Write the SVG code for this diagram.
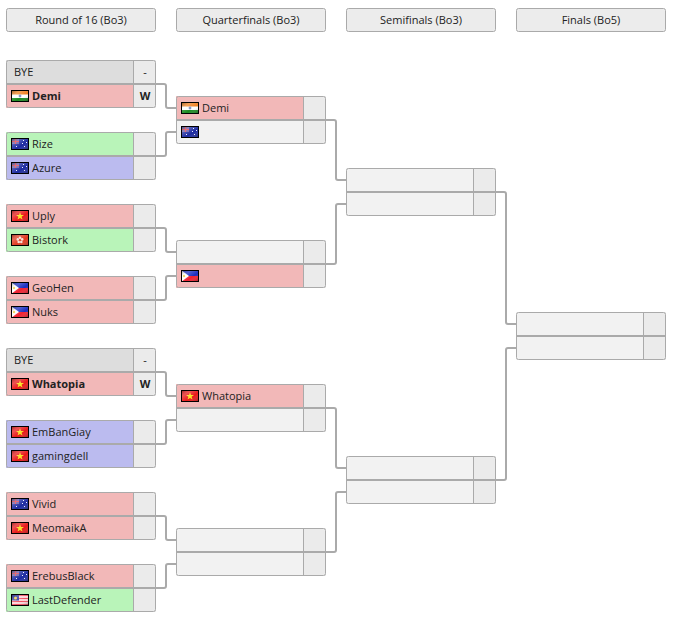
<svg xmlns="http://www.w3.org/2000/svg" xmlns:xlink="http://www.w3.org/1999/xlink" width="686" height="623" viewBox="0 0 686 623">
<style>
text{font-family:"Open Sans","Noto Sans","Liberation Sans",sans-serif;font-size:11px;fill:#222}
.h{text-anchor:middle}
.b{font-weight:700}
.s{text-anchor:middle}
.hd{fill:#ececec;stroke:#aaa;stroke-width:1}
.box{fill:none;stroke:#aaa;stroke-width:1}
.mid{stroke:#aaa;stroke-width:2;fill:none}
.div{stroke:#aaa;stroke-width:1;fill:none}
.c{fill:none;stroke:#aaa;stroke-width:2}
.p{fill:#f2b8b8}.g{fill:#b9f4b9}.u{fill:#bbbbef}.y{fill:#ddd}.e{fill:#f2f2f2}.k{fill:#ebebeb}
</style>
<defs>
<linearGradient id="gl" x1="0" y1="0" x2="1" y2="1">
<stop offset="0" stop-color="#000" stop-opacity=".45"/>
<stop offset=".3" stop-color="#fff" stop-opacity=".25"/>
<stop offset=".6" stop-color="#fff" stop-opacity="0"/>
<stop offset="1" stop-color="#000" stop-opacity=".4"/>
</linearGradient>
<symbol id="in" viewBox="0 0 18 12" width="18" height="12"><rect width="18" height="12" fill="#fff"/><rect width="18" height="4.5" fill="#f08020"/><rect y="8" width="18" height="4" fill="#1a8a20"/><circle cx="9" cy="6" r="1.4" fill="#8090c0"/><rect width="18" height="12" fill="url(#gl)"/><rect x=".5" y=".5" width="17" height="11" fill="none" stroke="#000"/></symbol>
<symbol id="au" viewBox="0 0 18 12" width="18" height="12"><rect width="18" height="12" fill="#1c2aa0"/><rect x="1" y="1" width="7" height="5" fill="#6a5ca8"/><path d="M1 3.5H8M4.5 1V6" stroke="#e04050" stroke-width="1.2"/><g fill="#f0f0ff"><rect x="12" y="2" width="1" height="1"/><rect x="15" y="4" width="1" height="1"/><rect x="11" y="5" width="1" height="1"/><rect x="13" y="8" width="1" height="1"/><rect x="5" y="8" width="1" height="1"/></g><rect width="18" height="12" fill="url(#gl)"/><rect x=".5" y=".5" width="17" height="11" fill="none" stroke="#000"/></symbol>
<symbol id="vn" viewBox="0 0 18 12" width="18" height="12"><rect width="18" height="12" fill="#e81818"/><path d="M9 2.2 10 5 13 5 10.6 6.8 11.5 9.6 9 7.9 6.5 9.6 7.4 6.8 5 5 8 5Z" fill="#f8e020"/><rect width="18" height="12" fill="url(#gl)"/><rect x=".5" y=".5" width="17" height="11" fill="none" stroke="#000"/></symbol>
<symbol id="hk" viewBox="0 0 18 12" width="18" height="12"><rect width="18" height="12" fill="#e03820"/><g fill="#f8e0d8"><circle cx="9" cy="3.8" r="1.3"/><circle cx="11.2" cy="5.4" r="1.3"/><circle cx="10.3" cy="8" r="1.3"/><circle cx="7.7" cy="8" r="1.3"/><circle cx="6.8" cy="5.4" r="1.3"/></g><rect width="18" height="12" fill="url(#gl)"/><rect x=".5" y=".5" width="17" height="11" fill="none" stroke="#000"/></symbol>
<symbol id="ph" viewBox="0 0 18 12" width="18" height="12"><rect width="18" height="6" fill="#1a2ec0"/><rect y="6" width="18" height="6" fill="#f02030"/><path d="M0 0 8 6 0 12Z" fill="#fff"/><circle cx="3" cy="6" r="1.2" fill="#f0d040"/><rect width="18" height="12" fill="url(#gl)"/><rect x=".5" y=".5" width="17" height="11" fill="none" stroke="#000"/></symbol>
<symbol id="my" viewBox="0 0 18 12" width="18" height="12"><rect width="18" height="12" fill="#fff"/><path d="M0 1.5H18M0 4.5H18M0 7.5H18M0 10.5H18" stroke="#f05060" stroke-width="1.5"/><rect x="1" y="1" width="7" height="5.5" fill="#2a2fa0"/><circle cx="4.5" cy="4" r="1.5" fill="#f0d040"/><rect width="18" height="12" fill="url(#gl)"/><rect x=".5" y=".5" width="17" height="11" fill="none" stroke="#000"/></symbol>
</defs>
<rect width="686" height="623" fill="#fff"/>
<g id="headers">
<g id="header-r16"><rect class="hd" x="6.5" y="8.5" width="149" height="23" rx="2"/><text class="h" x="81" y="24">Round of 16 (Bo3)</text></g>
<g id="header-qf"><rect class="hd" x="176.5" y="8.5" width="149" height="23" rx="2"/><text class="h" x="251" y="24">Quarterfinals (Bo3)</text></g>
<g id="header-sf"><rect class="hd" x="346.5" y="8.5" width="149" height="23" rx="2"/><text class="h" x="421" y="24">Semifinals (Bo3)</text></g>
<g id="header-f"><rect class="hd" x="516.5" y="8.5" width="149" height="23" rx="2"/><text class="h" x="591" y="24">Finals (Bo5)</text></g>
</g>
<g id="connectors">
<path class="c" d="M156 84H164Q166 84 166 86V106Q166 108 168 108H176"/>
<path class="c" d="M156 156H164Q166 156 166 154V134Q166 132 168 132H176"/>
<path class="c" d="M156 228H164Q166 228 166 230V250Q166 252 168 252H176"/>
<path class="c" d="M156 300H164Q166 300 166 298V278Q166 276 168 276H176"/>
<path class="c" d="M156 372H164Q166 372 166 374V394Q166 396 168 396H176"/>
<path class="c" d="M156 444H164Q166 444 166 442V422Q166 420 168 420H176"/>
<path class="c" d="M156 516H164Q166 516 166 518V538Q166 540 168 540H176"/>
<path class="c" d="M156 588H164Q166 588 166 586V566Q166 564 168 564H176"/>
<path class="c" d="M326 120H334Q336 120 336 122V178Q336 180 338 180H346"/>
<path class="c" d="M326 264H334Q336 264 336 262V206Q336 204 338 204H346"/>
<path class="c" d="M326 408H334Q336 408 336 410V466Q336 468 338 468H346"/>
<path class="c" d="M326 552H334Q336 552 336 550V494Q336 492 338 492H346"/>
<path class="c" d="M496 192H504Q506 192 506 194V322Q506 324 508 324H516"/>
<path class="c" d="M496 480H504Q506 480 506 478V350Q506 348 508 348H516"/>
</g>
<g id="match-r16-1">
<rect class="y" x="6" y="60" width="128" height="24"/><rect class="p" x="6" y="84" width="128" height="24"/><rect class="k" x="134" y="60" width="22" height="48"/>
<rect class="box" x="6.5" y="60.5" width="149" height="47" rx="2"/><path class="mid" d="M6 84H156"/><path class="div" d="M133.5 60V108"/>
<text x="14" y="76">BYE</text><text class="s" x="145" y="76">-</text>
<use xlink:href="#in" href="#in" x="11" y="90"/><text class="b" x="32" y="100">Demi</text><text class="s b" x="145" y="100">W</text>
</g>
<g id="match-r16-2">
<rect class="g" x="6" y="132" width="128" height="24"/><rect class="u" x="6" y="156" width="128" height="24"/><rect class="k" x="134" y="132" width="22" height="48"/>
<rect class="box" x="6.5" y="132.5" width="149" height="47" rx="2"/><path class="mid" d="M6 156H156"/><path class="div" d="M133.5 132V180"/>
<use xlink:href="#au" href="#au" x="11" y="138"/><text x="32" y="148">Rize</text>
<use xlink:href="#au" href="#au" x="11" y="162"/><text x="32" y="172">Azure</text>
</g>
<g id="match-r16-3">
<rect class="p" x="6" y="204" width="128" height="24"/><rect class="g" x="6" y="228" width="128" height="24"/><rect class="k" x="134" y="204" width="22" height="48"/>
<rect class="box" x="6.5" y="204.5" width="149" height="47" rx="2"/><path class="mid" d="M6 228H156"/><path class="div" d="M133.5 204V252"/>
<use xlink:href="#vn" href="#vn" x="11" y="210"/><text x="32" y="220">Uply</text>
<use xlink:href="#hk" href="#hk" x="11" y="234"/><text x="32" y="244">Bistork</text>
</g>
<g id="match-r16-4">
<rect class="p" x="6" y="276" width="128" height="48"/><rect class="k" x="134" y="276" width="22" height="48"/>
<rect class="box" x="6.5" y="276.5" width="149" height="47" rx="2"/><path class="mid" d="M6 300H156"/><path class="div" d="M133.5 276V324"/>
<use xlink:href="#ph" href="#ph" x="11" y="282"/><text x="32" y="292">GeoHen</text>
<use xlink:href="#ph" href="#ph" x="11" y="306"/><text x="32" y="316">Nuks</text>
</g>
<g id="match-r16-5">
<rect class="y" x="6" y="348" width="128" height="24"/><rect class="p" x="6" y="372" width="128" height="24"/><rect class="k" x="134" y="348" width="22" height="48"/>
<rect class="box" x="6.5" y="348.5" width="149" height="47" rx="2"/><path class="mid" d="M6 372H156"/><path class="div" d="M133.5 348V396"/>
<text x="14" y="364">BYE</text><text class="s" x="145" y="364">-</text>
<use xlink:href="#vn" href="#vn" x="11" y="378"/><text class="b" x="32" y="388">Whatopia</text><text class="s b" x="145" y="388">W</text>
</g>
<g id="match-r16-6">
<rect class="u" x="6" y="420" width="128" height="48"/><rect class="k" x="134" y="420" width="22" height="48"/>
<rect class="box" x="6.5" y="420.5" width="149" height="47" rx="2"/><path class="mid" d="M6 444H156"/><path class="div" d="M133.5 420V468"/>
<use xlink:href="#vn" href="#vn" x="11" y="426"/><text x="32" y="436">EmBanGiay</text>
<use xlink:href="#vn" href="#vn" x="11" y="450"/><text x="32" y="460">gamingdell</text>
</g>
<g id="match-r16-7">
<rect class="p" x="6" y="492" width="128" height="48"/><rect class="k" x="134" y="492" width="22" height="48"/>
<rect class="box" x="6.5" y="492.5" width="149" height="47" rx="2"/><path class="mid" d="M6 516H156"/><path class="div" d="M133.5 492V540"/>
<use xlink:href="#au" href="#au" x="11" y="498"/><text x="32" y="508">Vivid</text>
<use xlink:href="#vn" href="#vn" x="11" y="522"/><text x="32" y="532">MeomaikA</text>
</g>
<g id="match-r16-8">
<rect class="p" x="6" y="564" width="128" height="24"/><rect class="g" x="6" y="588" width="128" height="24"/><rect class="k" x="134" y="564" width="22" height="48"/>
<rect class="box" x="6.5" y="564.5" width="149" height="47" rx="2"/><path class="mid" d="M6 588H156"/><path class="div" d="M133.5 564V612"/>
<use xlink:href="#au" href="#au" x="11" y="570"/><text x="32" y="580">ErebusBlack</text>
<use xlink:href="#my" href="#my" x="11" y="594"/><text x="32" y="604">LastDefender</text>
</g>
<g id="match-qf-1">
<rect class="p" x="176" y="96" width="128" height="24"/><rect class="e" x="176" y="120" width="128" height="24"/><rect class="k" x="304" y="96" width="22" height="48"/>
<rect class="box" x="176.5" y="96.5" width="149" height="47" rx="2"/><path class="mid" d="M176 120H326"/><path class="div" d="M303.5 96V144"/>
<use xlink:href="#in" href="#in" x="181" y="102"/><text x="202" y="112">Demi</text>
<use xlink:href="#au" href="#au" x="181" y="126"/>
</g>
<g id="match-qf-2">
<rect class="e" x="176" y="240" width="128" height="24"/><rect class="p" x="176" y="264" width="128" height="24"/><rect class="k" x="304" y="240" width="22" height="48"/>
<rect class="box" x="176.5" y="240.5" width="149" height="47" rx="2"/><path class="mid" d="M176 264H326"/><path class="div" d="M303.5 240V288"/>
<use xlink:href="#ph" href="#ph" x="181" y="270"/>
</g>
<g id="match-qf-3">
<rect class="p" x="176" y="384" width="128" height="24"/><rect class="e" x="176" y="408" width="128" height="24"/><rect class="k" x="304" y="384" width="22" height="48"/>
<rect class="box" x="176.5" y="384.5" width="149" height="47" rx="2"/><path class="mid" d="M176 408H326"/><path class="div" d="M303.5 384V432"/>
<use xlink:href="#vn" href="#vn" x="181" y="390"/><text x="202" y="400">Whatopia</text>
</g>
<g id="match-qf-4">
<rect class="e" x="176" y="528" width="128" height="48"/><rect class="k" x="304" y="528" width="22" height="48"/>
<rect class="box" x="176.5" y="528.5" width="149" height="47" rx="2"/><path class="mid" d="M176 552H326"/><path class="div" d="M303.5 528V576"/>
</g>
<g id="match-sf-1">
<rect class="e" x="346" y="168" width="128" height="48"/><rect class="k" x="474" y="168" width="22" height="48"/>
<rect class="box" x="346.5" y="168.5" width="149" height="47" rx="2"/><path class="mid" d="M346 192H496"/><path class="div" d="M473.5 168V216"/>
</g>
<g id="match-sf-2">
<rect class="e" x="346" y="456" width="128" height="48"/><rect class="k" x="474" y="456" width="22" height="48"/>
<rect class="box" x="346.5" y="456.5" width="149" height="47" rx="2"/><path class="mid" d="M346 480H496"/><path class="div" d="M473.5 456V504"/>
</g>
<g id="match-f">
<rect class="e" x="516" y="312" width="128" height="48"/><rect class="k" x="644" y="312" width="22" height="48"/>
<rect class="box" x="516.5" y="312.5" width="149" height="47" rx="2"/><path class="mid" d="M516 336H666"/><path class="div" d="M643.5 312V360"/>
</g>
</svg>
